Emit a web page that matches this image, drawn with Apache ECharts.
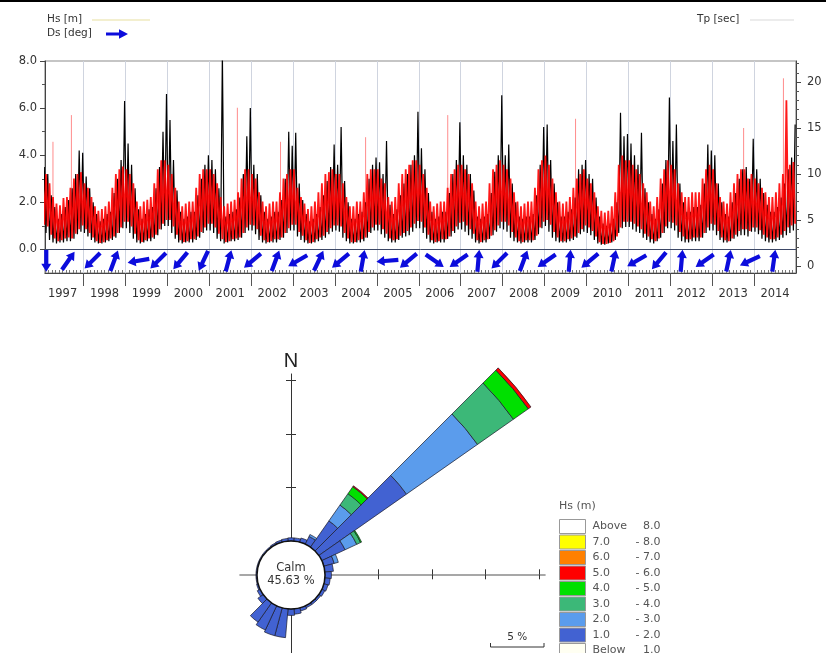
<!DOCTYPE html>
<html>
<head>
<meta charset="utf-8">
<script src="https://cdn.jsdelivr.net/npm/echarts@6/dist/echarts.min.js"></script>
<style>html,body{margin:0;padding:0;background:#fff}#c{width:826px;height:653px}</style>
</head>
<body>
<div id="c"></div>
<script>
// ---------------- DATA: time series (monthly low / high) ----------------
const years = [1997,1998,1999,2000,2001,2002,2003,2004,2005,2006,2007,2008,2009,2010,2011,2012,2013,2014];

const hsMax = [
  [3.5,3.2,2.3,1.8,1.3,1.5,1.8,2.1,2.6,3.2,4.2,4.1],
  [3.1,2.6,2.0,1.5,1.2,1.3,1.5,1.6,2.4,3.0,3.8,6.3],
  [4.5,3.6,2.6,1.7,1.3,1.5,1.7,1.8,2.6,3.5,5.0,6.6],
  [5.5,3.8,2.5,1.6,1.3,1.4,1.6,1.6,2.3,3.0,3.6,4.0],
  [3.8,3.4,2.6,8.3,1.4,1.5,1.6,1.7,2.2,3.2,4.8,6.0],
  [3.6,3.2,2.3,1.6,1.3,1.4,1.6,1.6,2.1,3.0,5.0,4.4],
  [4.95,2.8,2.1,1.5,1.2,1.3,1.5,1.8,2.3,2.9,3.5,4.45],
  [3.6,5.2,2.9,2.0,1.3,1.3,1.5,1.6,2.0,3.0,3.6,3.9],
  [3.7,3.2,4.6,1.9,1.5,1.7,2.3,2.8,3.2,3.6,4.0,5.85],
  [4.3,3.4,2.4,1.6,1.3,1.4,1.6,1.6,2.4,3.2,3.8,5.4],
  [4.0,3.6,3.2,2.5,1.4,1.3,1.4,1.5,2.4,3.3,4.0,6.55],
  [4.0,4.45,2.8,2.0,1.4,1.3,1.4,1.4,1.5,2.3,3.6,5.2],
  [5.3,3.8,2.8,2.0,1.4,1.4,1.6,1.7,2.2,3.4,3.6,3.8],
  [3.2,3.0,2.2,1.4,1.1,1.0,1.1,1.3,2.0,5.8,4.8,4.9],
  [4.5,4.0,3.6,4.95,2.6,2.0,1.5,1.3,1.7,2.8,3.8,6.45],
  [4.6,5.3,2.8,2.0,1.6,1.6,1.8,1.8,1.9,2.8,4.45,4.2],
  [4.0,2.8,2.0,1.5,1.4,2.0,2.4,3.0,3.4,3.5,3.0,4.7],
  [3.4,3.0,2.4,1.9,1.6,1.6,1.8,2.2,2.8,3.4,3.9,5.3]
];
const hsMin = [
  [0.8,0.7,0.4,0.3,0.25,0.3,0.3,0.35,0.35,0.45,0.65,0.75],
  [0.7,0.55,0.4,0.3,0.25,0.25,0.3,0.35,0.4,0.5,0.7,0.9],
  [0.9,0.7,0.45,0.3,0.25,0.3,0.35,0.35,0.45,0.6,0.85,1.0],
  [1.0,0.7,0.45,0.3,0.25,0.3,0.3,0.3,0.4,0.5,0.7,0.8],
  [0.8,0.7,0.45,0.35,0.25,0.3,0.35,0.35,0.4,0.5,0.7,0.8],
  [0.8,0.65,0.4,0.3,0.25,0.3,0.3,0.3,0.4,0.5,0.7,0.8],
  [0.8,0.55,0.4,0.3,0.25,0.25,0.3,0.35,0.4,0.5,0.65,0.75],
  [0.8,0.75,0.5,0.35,0.25,0.25,0.3,0.3,0.35,0.5,0.7,0.8],
  [0.8,0.65,0.5,0.35,0.3,0.3,0.4,0.5,0.55,0.6,0.75,0.9],
  [0.9,0.7,0.45,0.3,0.25,0.3,0.3,0.3,0.45,0.55,0.7,0.85],
  [0.85,0.75,0.6,0.45,0.3,0.25,0.3,0.3,0.45,0.6,0.75,0.9],
  [0.85,0.75,0.5,0.35,0.3,0.25,0.3,0.3,0.3,0.4,0.65,0.9],
  [1.0,0.75,0.5,0.35,0.3,0.3,0.3,0.35,0.4,0.5,0.65,0.75],
  [0.7,0.6,0.4,0.25,0.2,0.2,0.25,0.3,0.4,0.7,0.9,0.95],
  [0.95,0.85,0.75,0.7,0.5,0.4,0.3,0.25,0.35,0.5,0.7,0.9],
  [0.9,0.8,0.5,0.35,0.3,0.3,0.35,0.35,0.35,0.5,0.7,0.8],
  [0.8,0.6,0.4,0.3,0.3,0.35,0.45,0.55,0.6,0.6,0.55,0.75],
  [0.75,0.65,0.45,0.35,0.3,0.3,0.35,0.4,0.5,0.6,0.7,0.8]
];
const tpMax = [
  [10,10,9,7.5,6.8,6.6,7.4,7.5,8.5,9.5,10,10.2],
  [9,8.5,7.5,6.5,6,6.2,6.5,7,8.5,10,10.5,10.8],
  [10.5,10,9,7,6.5,7,7.2,7.5,9,10.5,11.5,11.5],
  [11,10,8.5,7,6.5,6.8,7,7,8.5,10,10.5,10.5],
  [10.5,10,9,7.5,6.5,6.8,7,7.2,8,9.5,10.5,10.5],
  [10,9.5,8,7,6.5,6.8,7,7,8,9.5,10,10.5],
  [10.5,8.5,7.5,6.8,6.2,6.5,7,8,9,10,10.2,10.5],
  [10,10,9,7.5,6.5,6.5,7,7,8,10,10.5,10.5],
  [10.5,9.5,9,7.5,7,7.5,9,10,10.5,11,11.5,11.5],
  [11,10,8.5,7,6.5,6.8,7,7,8.5,10,10.5,11],
  [11,10.5,10,9,7,6.5,6.8,7,9,10.5,11,11.5],
  [11,10.5,9.5,8,7,6.5,6.8,7,7,8.5,10.5,11.5],
  [12,11,9.5,8,7,6.8,7,7.5,8.5,9.5,10,10.5],
  [9.5,9,8,6.5,6,5.8,6,6.5,8,11,12,11.5],
  [11.5,11,10.5,10,9,8,7,6.5,7.5,9.5,10.5,11.5],
  [11,10.5,9,8,7.5,7.5,8,8,8,9.5,10.5,11],
  [10.5,9,7.5,7,6.8,8,9,10,10.5,10.5,9.5,10],
  [9.5,9,8.5,8,7.5,7.5,8,9,10,18,11,11.3]
];
const tpMin = [
  [4.5,4.3,3.4,3.0,2.7,2.8,3.0,3.1,3.0,3.5,4.0,4.4],
  [4,3.6,3.1,2.7,2.5,2.6,2.8,3,3.2,3.6,4.2,4.8],
  [4.8,4.3,3.5,2.8,2.6,2.8,3,3.1,3.4,4,4.6,5],
  [5,4.3,3.4,2.8,2.6,2.7,2.9,2.9,3.2,3.7,4.2,4.6],
  [4.6,4.2,3.5,2.9,2.6,2.7,2.9,3,3.1,3.6,4.2,4.5],
  [4.4,4,3.3,2.8,2.6,2.7,2.9,2.9,3.1,3.6,4.1,4.5],
  [4.5,3.7,3.3,2.8,2.5,2.6,2.9,3.1,3.3,3.7,4.1,4.4],
  [4.4,4.3,3.6,3,2.6,2.6,2.8,2.9,3.1,3.7,4.2,4.5],
  [4.5,4,3.5,3,2.8,2.9,3.3,3.6,3.8,4.2,4.6,4.9],
  [4.8,4.2,3.4,2.8,2.6,2.7,2.9,2.9,3.2,3.8,4.3,4.7],
  [4.8,4.4,4,3.5,2.8,2.6,2.8,2.9,3.3,3.9,4.4,4.8],
  [4.8,4.4,3.7,3.1,2.7,2.6,2.8,2.8,2.8,3.3,4.2,4.8],
  [5,4.5,3.7,3.1,2.7,2.7,2.9,3,3.2,3.6,4,4.4],
  [4.2,3.8,3.2,2.6,2.4,2.4,2.5,2.7,3.2,4.2,4.8,4.8],
  [4.8,4.6,4.3,4,3.5,3.2,2.9,2.7,3,3.6,4.3,4.8],
  [4.7,4.4,3.7,3.2,2.9,2.9,3.1,3.1,3.1,3.6,4.2,4.6],
  [4.5,3.8,3.1,2.8,2.7,3,3.4,3.8,4,4,3.8,4.2],
  [4.2,3.9,3.4,3.1,2.9,2.9,3.1,3.4,3.8,4.2,4.4,4.6]
];
// isolated long-period Tp readings (thin pink spikes)
const tpSpikeTime = [1997.27, 1997.71, 2001.67, 2002.70, 2004.73, 2006.69, 2009.74, 2013.75, 2014.70];
const tpSpikeVal  = [13.5, 16.4, 17.2, 13.5, 14.0, 16.4, 16.0, 15.0, 20.4];

// mean direction arrows (time in decimal years, direction in degrees clockwise from north)
const dsTime = [1997.11,1997.635,1998.21,1998.73,1999.31,1999.78,2000.31,2000.86,2001.46,2002.03,2002.58,
  2003.11,2003.61,2004.13,2004.66,2005.25,2005.75,2006.38,2006.95,2007.42,2007.92,2008.50,2009.05,2009.60,
  2010.08,2010.65,2011.20,2011.73,2012.27,2012.82,2013.39,2013.90,2014.47];
const dsDir = [180,35,225,20,260,225,220,205,15,230,20,
  240,25,230,10,265,230,125,235,5,225,20,235,5,
  230,12,240,220,5,235,12,245,8];

const yearTicks = [1998,1999,2000,2001,2002,2003,2004,2005,2006,2007,2008,2009,2010,2011,2012,2013,2014];
const hsTickLabels = [0,2,4,6,8];
const hsMinorTicks = [1,3,5,7];
const tpTickLabels = [0,5,10,15,20];
const tpMinorTicks = [1,2,3,4,6,7,8,9,11,12,13,14,16,17,18,19,21,22];

// ---------------- DATA: rose (percent per 10-degree sector, 0 = N, clockwise) ----------------
const dirLabels = ['0','10','20','30','40','50','60','70','80','90','100','110','120','130','140','150','160','170',
  '180','190','200','210','220','230','240','250','260','270','280','290','300','310','320','330','340','350'];
const rose12 = [0.3,0.3,0.4,0.8,3.0,10.0,2.4,1.0,0.8,0.6,0.5,0.4,0.3,0.2,0.2,0.2,0.3,0.5,
  0.6,2.7,2.7,2.5,2.2,0.6,0.3,0.15,0.1,0.1,0.1,0.1,0.1,0.1,0.1,0.15,0.2,0.25];
const rose23 = [null,null,null,0.2,1.8,8.1,1.2,0.4,null,null,null,null,null,null,null,null,null,null,
  null,null,null,null,null,null,null,null,null,null,null,null,null,null,null,null,null,null];
const rose34 = [null,null,null,null,1.3,4.1,0.4,null,null,null,null,null,null,null,null,null,null,null,
  null,null,null,null,null,null,null,null,null,null,null,null,null,null,null,null,null,null];
const rose45 = [null,null,null,null,0.8,1.7,0.1,null,null,null,null,null,null,null,null,null,null,null,
  null,null,null,null,null,null,null,null,null,null,null,null,null,null,null,null,null,null];
const rose56 = [null,null,null,null,0.1,0.3,null,null,null,null,null,null,null,null,null,null,null,null,
  null,null,null,null,null,null,null,null,null,null,null,null,null,null,null,null,null,null];
const roseNone = dirLabels.map(() => null);
const calmPct = 45.63;

const classLow  = ['Above','7.0','6.0','5.0','4.0','3.0','2.0','1.0','Below'];
const classHigh = ['8.0','- 8.0','- 7.0','- 6.0','- 5.0','- 4.0','- 3.0','- 2.0','1.0'];
const classColors = ['#ffffff','#ffff00','#ff8000','#ff0000','#00e000','#3cb878','#5b9cec','#4262d2','#fffff2'];
const classData = [roseNone, roseNone, roseNone, rose56, rose45, rose34, rose23, rose12, roseNone];
const ringTicksPct = [5,10,15,20];

// ---------------- LAYOUT / STYLE CONSTANTS ----------------
const FONT = "'DejaVu Sans', sans-serif";
const TIME_MIN = 1997.08, TIME_MAX = 2015.0;
const HS_MIN = -1, HS_MAX = 8;
const TP_MIN = -0.76, TP_MAX = 22.28;
const ARROW_ROW = -0.48;
const ARROW_PATH = 'path://M5,0 L10,8 L7.1,8 L7.1,22 L2.9,22 L2.9,8 L0,8 Z';
const topGrid = {left: 45, right: 30, top: 61, height: 212};

const CX = 291, CY = 575;          // rose centre
const CALM_R = 34;                 // calm circle radius (px)
const PX = 10.7;                   // px per 1 %
const R_MIN = -CALM_R / PX, R_MAX = 27;
const CROSS = {l: -4.77, r: 23.74, t: 18.79, b: -7.38};

// ---------------- BUILD ----------------
function zigzag(lowY, highY, highFirst) {
  const out = [];
  lowY.forEach((row, yi) => {
    row.forEach((lo, m) => {
      const hi = highY[yi][m];
      const yr = years[yi];
      out.push([yr + (m + 0.25) / 12, highFirst ? hi : lo]);
      out.push([yr + (m + 0.75) / 12, highFirst ? lo : hi]);
    });
  });
  return out;
}
const hsData = zigzag(hsMin, hsMax, false);
const tpData = zigzag(tpMin, tpMax, true);
const spikeData = [];
tpSpikeTime.forEach((t, i) => {
  const yi = Math.floor(t) - years[0], m = Math.min(11, Math.floor((t - Math.floor(t)) * 12));
  spikeData.push([t, tpMin[yi][m]], [t, tpSpikeVal[i]], [t, null]);
});
const dsData = dsTime.map((t, i) => [t, ARROW_ROW, dsDir[i]]);
const monthTicks = [];
years.forEach(y => { for (let m = 1; m < 12; m++) monthTicks.push(y + m / 12); });
const yearLabelPos = years.map(y => y + 0.5);
const ringTicks = ringTicksPct.map(p => CALM_R / PX + p);
const classNames = classLow.map((l, i) => l + ' ' + classHigh[i]);

const roseSeries = [];
for (let i = classNames.length - 1; i >= 0; i--) {
  roseSeries.push({
    name: classNames[i], type: 'bar', coordinateSystem: 'polar', stack: 'hs',
    data: classData[i], barCategoryGap: '0%', silent: true, z: 3,
    itemStyle: {color: classColors[i], borderColor: '#1b1b2a', borderWidth: 0.7}
  });
}

const crossAxisCommon = {
  gridIndex: 1, type: 'value', axisLabel: {show: false}, splitLine: {show: false}
};

const option = {
  animation: false,
  backgroundColor: '#ffffff',
  title: [{
    text: 'Hs (m)', left: 559, top: 501, padding: 0,
    textStyle: {fontSize: 11, fontWeight: 'normal', color: '#555', fontFamily: FONT}
  }],
  legend: {
    data: classNames, left: 559, top: 519, height: 220, padding: 0, orient: 'vertical', icon: 'rect',
    itemWidth: 26, itemHeight: 14, itemGap: 0.5, selectedMode: false,
    itemStyle: {borderColor: '#999', borderWidth: 1},
    formatter: name => {
      const i = classNames.indexOf(name);
      return '{a|' + classLow[i] + '}{b|' + classHigh[i] + '}';
    },
    textStyle: {
      color: '#555', fontSize: 11, lineHeight: 13, fontFamily: FONT, padding: [0, 0, 0, 2],
      rich: {
        a: {width: 42, color: '#555', fontSize: 11, lineHeight: 13, fontFamily: FONT},
        b: {width: 26, align: 'right', color: '#555', fontSize: 11, lineHeight: 13, fontFamily: FONT}
      }
    }
  },
  grid: [
    Object.assign({show: true, borderColor: '#8c8c8c', borderWidth: 1.2, backgroundColor: 'transparent'}, topGrid),
    {left: CX + CROSS.l * PX, width: (CROSS.r - CROSS.l) * PX, top: CY - CROSS.t * PX, height: (CROSS.t - CROSS.b) * PX},
    Object.assign({}, topGrid)
  ],
  xAxis: [
    {
      gridIndex: 0, type: 'value', min: TIME_MIN, max: TIME_MAX,
      axisLine: {onZero: false, lineStyle: {color: '#444', width: 1}},
      axisTick: {customValues: yearTicks, length: 13, lineStyle: {color: '#555'}},
      axisLabel: {customValues: yearLabelPos, formatter: v => String(Math.floor(v)),
        fontSize: 11.5, color: '#333', margin: 15, fontFamily: FONT},
      splitLine: {show: true, lineStyle: {color: '#cfd4df', width: 1}}
    },
    {
      gridIndex: 2, type: 'value', min: TIME_MIN, max: TIME_MAX,
      axisLine: {show: false, onZero: false},
      axisTick: {customValues: monthTicks, length: 3, inside: true, lineStyle: {color: '#777'}},
      axisLabel: {show: false}, splitLine: {show: false}
    },
    Object.assign({}, crossAxisCommon, {
      min: CROSS.l, max: CROSS.r,
      axisLine: {onZero: true, lineStyle: {color: '#8a8a8a', width: 1.6}},
      axisTick: {customValues: ringTicks, length: 5, lineStyle: {color: '#333', width: 1}}
    }),
    Object.assign({}, crossAxisCommon, {
      min: CROSS.l, max: CROSS.r,
      axisLine: {show: false, onZero: true},
      axisTick: {customValues: ringTicks, length: 5, lineStyle: {color: '#333', width: 1}}
    })
  ],
  yAxis: [
    {
      gridIndex: 0, type: 'value', min: HS_MIN, max: HS_MAX, position: 'left',
      axisLine: {show: true, lineStyle: {color: '#444'}},
      axisTick: {show: true, customValues: hsTickLabels, length: 5, lineStyle: {color: '#444'}},
      axisLabel: {customValues: hsTickLabels, formatter: v => v.toFixed(1), fontSize: 11.5, color: '#333', margin: 8, fontFamily: FONT},
      splitLine: {show: false}
    },
    {
      gridIndex: 0, type: 'value', min: TP_MIN, max: TP_MAX, position: 'right',
      axisLine: {show: true, lineStyle: {color: '#444'}},
      axisTick: {show: true, customValues: tpTickLabels, length: 5, lineStyle: {color: '#444'}},
      axisLabel: {customValues: tpTickLabels, formatter: v => String(v), fontSize: 11.5, color: '#333', margin: 11, fontFamily: FONT},
      splitLine: {show: false}
    },
    {
      gridIndex: 2, type: 'value', min: HS_MIN, max: HS_MAX, position: 'left',
      axisLine: {show: false},
      axisTick: {show: true, customValues: hsMinorTicks, length: 3, lineStyle: {color: '#555'}},
      axisLabel: {show: false}, splitLine: {show: false}
    },
    {
      gridIndex: 2, type: 'value', min: TP_MIN, max: TP_MAX, position: 'right',
      axisLine: {show: false},
      axisTick: {show: true, customValues: tpMinorTicks, length: 3, lineStyle: {color: '#555'}},
      axisLabel: {show: false}, splitLine: {show: false}
    },
    Object.assign({}, crossAxisCommon, {
      min: CROSS.b, max: CROSS.t,
      name: 'N', nameLocation: 'end', nameGap: 2,
      nameTextStyle: {fontSize: 20, color: '#222', fontFamily: "'Liberation Sans', Arial, sans-serif"},
      axisLine: {onZero: true, lineStyle: {color: '#333', width: 1}},
      axisTick: {customValues: ringTicks, length: 5, lineStyle: {color: '#333', width: 1}}
    }),
    Object.assign({}, crossAxisCommon, {
      min: CROSS.b, max: CROSS.t,
      axisLine: {show: false, onZero: true},
      axisTick: {customValues: ringTicks, length: 5, lineStyle: {color: '#333', width: 1}}
    })
  ],
  polar: {center: [CX, CY], radius: (R_MAX - R_MIN) * PX},
  angleAxis: {type: 'category', data: dirLabels, startAngle: 95, clockwise: true, show: false},
  radiusAxis: {type: 'value', min: R_MIN, max: R_MAX, show: false},
  series: [
    {
      name: 'Tp spikes', type: 'line', xAxisIndex: 0, yAxisIndex: 1, data: spikeData,
      symbol: 'none', silent: true, z: 1, connectNulls: false,
      lineStyle: {color: '#ff8c8c', width: 1}
    },
    {
      name: 'Hs', type: 'line', xAxisIndex: 0, yAxisIndex: 0, data: hsData,
      symbol: 'none', silent: true, z: 2,
      lineStyle: {color: '#000000', width: 1.2},
      markLine: {
        silent: true, symbol: 'none', label: {show: false},
        lineStyle: {color: '#3d4866', width: 1, type: 'solid'},
        data: [{yAxis: 0}]
      }
    },
    {
      name: 'Tp', type: 'line', xAxisIndex: 0, yAxisIndex: 1, data: tpData,
      symbol: 'none', silent: true, z: 3,
      lineStyle: {color: '#ff0000', width: 1.8, opacity: 0.9}
    },
    {
      name: 'Ds', type: 'scatter', xAxisIndex: 0, yAxisIndex: 0, data: dsData,
      symbol: ARROW_PATH, symbolSize: [10, 22], symbolKeepAspect: false,
      symbolRotate: v => -v[2], silent: true, z: 4,
      itemStyle: {color: '#0c0cdc', opacity: 1}
    },
    ...roseSeries,
    {
      name: 'Calm', type: 'pie', center: [CX, CY], radius: [0, CALM_R], silent: true, z: 10,
      data: [{value: calmPct, name: 'Calm'}],
      itemStyle: {color: '#ffffff', borderColor: '#111', borderWidth: 1.5},
      label: {show: true, position: 'center', formatter: p => 'Calm\n' + p.value.toFixed(2) + ' %',
        fontSize: 11.5, lineHeight: 13, color: '#333', fontFamily: FONT},
      labelLine: {show: false}, emphasis: {disabled: true}
    }
  ],
  graphic: [
    {type: 'rect', shape: {x: 0, y: 0, width: 826, height: 2}, style: {fill: '#000'}, silent: true},
    {type: 'text', left: 47, top: 14, style: {text: 'Hs [m]', fontSize: 10.5, fill: '#333', fontFamily: FONT}, silent: true},
    {type: 'line', shape: {x1: 92, y1: 20, x2: 150, y2: 20}, style: {stroke: '#f3efcf', lineWidth: 2}, silent: true},
    {type: 'text', left: 47, top: 28, style: {text: 'Ds [deg]', fontSize: 10.5, fill: '#333', fontFamily: FONT}, silent: true},
    {type: 'polygon', shape: {points: [[106,32.4],[119,32.4],[119,29.3],[128,34],[119,38.7],[119,35.6],[106,35.6]]},
      style: {fill: '#0c0cdc'}, silent: true},
    {type: 'text', left: 697, top: 14, style: {text: 'Tp [sec]', fontSize: 10.5, fill: '#333', fontFamily: FONT}, silent: true},
    {type: 'line', shape: {x1: 750, y1: 20, x2: 794, y2: 20}, style: {stroke: '#ececec', lineWidth: 2}, silent: true},
    // 5 % scale bar, length from the rose scale
    {type: 'group', left: 488, top: 632, silent: true, children: [
      {type: 'text', x: 5 * PX / 2, y: 0, style: {text: '5 %', fontSize: 10.5, fill: '#333', fontFamily: FONT, align: 'center'}},
      {type: 'polyline', shape: {points: [[0, 11], [0, 15], [5 * PX, 15], [5 * PX, 11]]}, style: {stroke: '#333', lineWidth: 1, fill: null}}
    ]}
  ]
};

const chart = echarts.init(document.getElementById('c'));
chart.setOption(option);
</script>
</body>
</html>
